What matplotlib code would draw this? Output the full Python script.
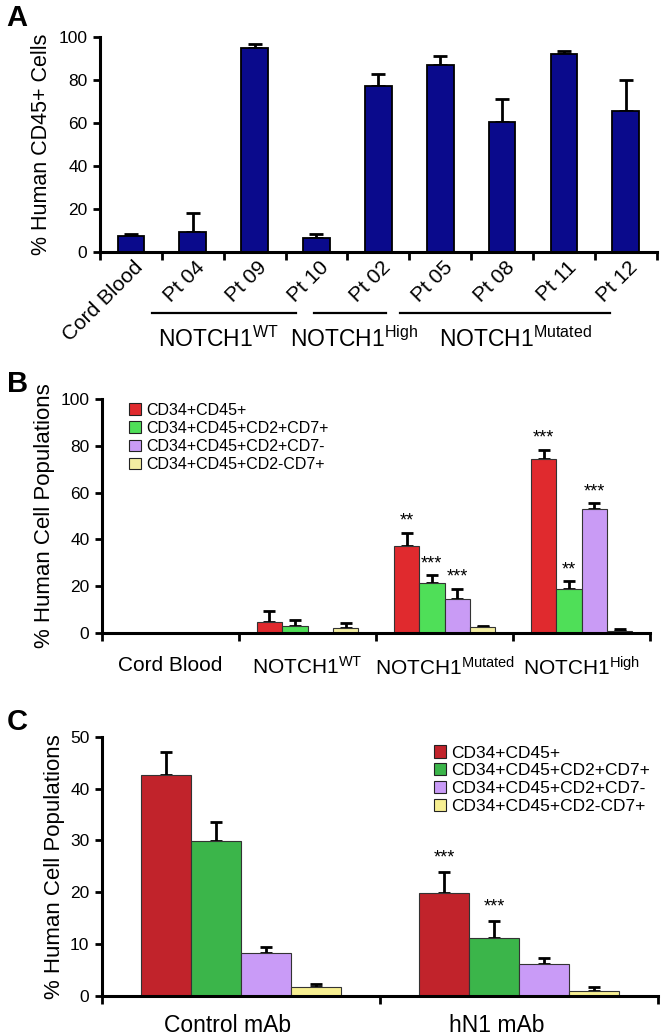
import matplotlib
matplotlib.use("Agg")
import matplotlib.pyplot as plt
import numpy as np

plt.rcParams['font.family'] = ['Liberation Sans', 'DejaVu Sans']
plt.rcParams['mathtext.fontset'] = 'custom'
plt.rcParams['mathtext.rm'] = 'Liberation Sans'
plt.rcParams['mathtext.it'] = 'Liberation Sans:italic'
plt.rcParams['mathtext.bf'] = 'Liberation Sans:bold'
NARROW = ['Liberation Sans Narrow', 'Liberation Sans']

# ---- panel A data ----
a_labels = ["Cord Blood", "Pt 04", "Pt 09", "Pt 10", "Pt 02", "Pt 05", "Pt 08", "Pt 11", "Pt 12"]
a_values = [7.5, 9.5, 95, 6.5, 77, 87, 60.5, 92, 65.5]
a_err = [0.8, 8.5, 1.5, 2.0, 6.0, 4.0, 10.5, 1.5, 14.5]
a_group_names = [r"NOTCH1$^{\mathrm{WT}}$", r"NOTCH1$^{\mathrm{High}}$", r"NOTCH1$^{\mathrm{Mutated}}$"]

# ---- panel B data ----
populations = ["CD34+CD45+", "CD34+CD45+CD2+CD7+", "CD34+CD45+CD2+CD7-", "CD34+CD45+CD2-CD7+"]
b_groups = ["Cord Blood", r"NOTCH1$^{\mathrm{WT}}$", r"NOTCH1$^{\mathrm{Mutated}}$", r"NOTCH1$^{\mathrm{High}}$"]
b_cd34 = [0, 4.6, 37.3, 74.4]
b_cd34_err = [0, 4.6, 5.6, 4.0]
b_cd2cd7 = [0, 2.8, 21.1, 18.6]
b_cd2cd7_err = [0, 2.6, 3.5, 3.4]
b_cd2only = [0, 0, 14.3, 52.9]
b_cd2only_err = [0, 0, 4.6, 2.7]
b_cd7only = [0, 2.0, 2.3, 0.7]
b_cd7only_err = [0, 2.1, 0.7, 0.8]
b_stars = [["", "", "**", "***"],
           ["", "", "***", "**"],
           ["", "", "***", "***"],
           ["", "", "", ""]]

# ---- panel C data ----
c_groups = ["Control mAb", "hN1 mAb"]
c_cd34 = [42.7, 19.8]
c_cd34_err = [4.3, 4.1]
c_cd2cd7 = [29.9, 11.2]
c_cd2cd7_err = [3.7, 3.3]
c_cd2only = [8.2, 6.1]
c_cd2only_err = [1.2, 1.2]
c_cd7only = [1.6, 0.9]
c_cd7only_err = [0.7, 0.7]
c_stars = [["", "***"], ["", "***"], ["", ""], ["", ""]]

b_colors = ["#e02a2e", "#4fdf58", "#c99bf5", "#f3eea2"]
c_colors = ["#c1232b", "#3bb54a", "#c99bf7", "#f7ef92"]

fig = plt.figure(figsize=(6.64, 10.35), dpi=100)


def style_axes(ax):
    for s in ["top", "right"]:
        ax.spines[s].set_visible(False)
    for s in ["left", "bottom"]:
        ax.spines[s].set_linewidth(2.2)
    ax.tick_params(axis="y", direction="out", length=5, width=2, labelsize=12.5, pad=4)
    for lab in ax.get_yticklabels():
        lab.set_family(NARROW)


def grouped(ax, series, errs, stars, colors, w, star_pt):
    n = len(series[0])
    x = np.arange(n)
    for k, (vals, err, col) in enumerate(zip(series, errs, colors)):
        pos = x + (k - 1.5) * w
        ax.bar(pos, vals, w, color=col, edgecolor="#333333", linewidth=0.8, zorder=2)
        ax.errorbar(pos, vals, yerr=[np.zeros(n), err], fmt="none", ecolor="black",
                    elinewidth=2, capsize=4.5, capthick=2, zorder=1)
        for i in range(n):
            if stars[k][i]:
                ax.annotate(stars[k][i], (pos[i], vals[i] + err[i]), xytext=(0, star_pt),
                            textcoords="offset points", ha="center", va="bottom", fontsize=13)
    ax.set_xlim(-0.5, n - 0.5)
    ax.set_xticks(x)
    ax.set_xticks(np.arange(n + 1) - 0.5, minor=True)
    ax.tick_params(axis="x", which="major", length=0, pad=12)
    ax.tick_params(axis="x", which="minor", direction="out", length=6, width=2)


# ---------------- A ----------------
axA = fig.add_axes([0.1506, 0.7565, 0.8384, 0.2078])
xa = np.arange(len(a_labels))
axA.bar(xa, a_values, 0.43, color="#0a0a8c", edgecolor="black", linewidth=1.3, zorder=2)
axA.errorbar(xa, a_values, yerr=[np.zeros(len(xa)), a_err], fmt="none", ecolor="black",
             elinewidth=2, capsize=5, capthick=2, zorder=1)
axA.set_ylim(0, 100)
axA.set_xlim(-0.5, len(a_labels) - 0.5)
axA.set_yticks([0, 20, 40, 60, 80, 100])
style_axes(axA)
# labels sit a little right of the bar centres, as in the original
axA.set_xticks(xa + 0.15)
axA.set_xticklabels(a_labels, rotation=45, ha="right", va="center", rotation_mode="anchor",
                    fontsize=15, family=NARROW)
axA.set_xticks(np.arange(len(a_labels) + 1) - 0.5, minor=True)
axA.tick_params(axis="x", which="major", length=0, pad=9)
axA.tick_params(axis="x", which="minor", direction="out", length=6, width=2)
axA.set_ylabel("% Human CD45+ Cells", fontsize=15.5, labelpad=5)
trA = axA.get_xaxis_transform()
for (x0, x1) in [(0.34, 2.67), (2.96, 4.12), (4.35, 7.74)]:
    axA.plot([x0, x1], [-0.284, -0.284], color="black", lw=1.6, transform=trA, clip_on=False)
for xc, name in zip([1.41, 3.6, 6.22], a_group_names):
    axA.text(xc, -0.44, name, transform=trA, ha="center", va="baseline", fontsize=16.5)
fig.text(0.01, 0.9826, "A", fontsize=21, fontweight="bold", ha="left", va="center")

# ---------------- B ----------------
axB = fig.add_axes([0.1536, 0.3887, 0.8254, 0.2255])
grouped(axB, [b_cd34, b_cd2cd7, b_cd2only, b_cd7only],
        [b_cd34_err, b_cd2cd7_err, b_cd2only_err, b_cd7only_err],
        b_stars, b_colors, 0.185, 2)
axB.set_ylim(0, 100)
axB.set_yticks([0, 20, 40, 60, 80, 100])
style_axes(axB)
axB.set_xticklabels(b_groups, fontsize=15)
axB.tick_params(axis="x", which="major", pad=17)
axB.set_ylabel("% Human Cell Populations", fontsize=16, labelpad=4)
hB = [plt.Rectangle((0, 0), 1, 1, facecolor=c, edgecolor="#222222", lw=0.8) for c in b_colors]
axB.legend(hB, populations, loc="upper left", bbox_to_anchor=(0.035, 1.02), frameon=False,
           prop={"size": 11.5}, handlelength=0.75, handleheight=0.75,
           handletextpad=0.3, labelspacing=0.2, borderpad=0)
fig.text(0.01, 0.629, "B", fontsize=21, fontweight="bold", ha="left", va="center")

# ---------------- C ----------------
axC = fig.add_axes([0.1536, 0.038, 0.8374, 0.2502])
grouped(axC, [c_cd34, c_cd2cd7, c_cd2only, c_cd7only],
        [c_cd34_err, c_cd2cd7_err, c_cd2only_err, c_cd7only_err],
        c_stars, c_colors, 0.18, 4)
axC.set_ylim(0, 50)
axC.set_yticks([0, 10, 20, 30, 40, 50])
style_axes(axC)
axC.set_xticks([-0.05, 0.92])
axC.set_xticklabels(c_groups, fontsize=16.5)
axC.tick_params(axis="x", which="major", pad=13)
axC.set_ylabel("% Human Cell Populations", fontsize=16, labelpad=4)
hC = [plt.Rectangle((0, 0), 1, 1, facecolor=c, edgecolor="#222222", lw=0.8) for c in c_colors]
axC.legend(hC, populations, loc="upper left", bbox_to_anchor=(0.582, 1.0), frameon=False,
           prop={"size": 12.5}, handlelength=0.7, handleheight=0.7, handletextpad=0.25,
           labelspacing=0.15, borderpad=0)
fig.text(0.01, 0.302, "C", fontsize=21, fontweight="bold", ha="left", va="center")

fig.savefig("out.png", dpi=100)
